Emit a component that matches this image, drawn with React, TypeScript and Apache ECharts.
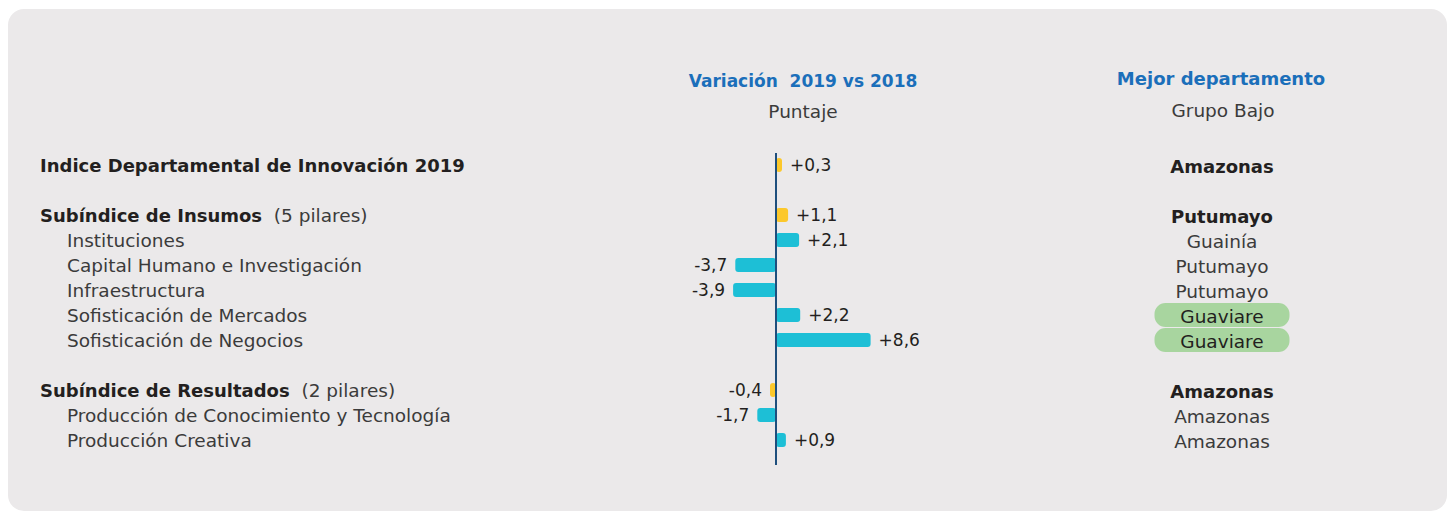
import React, { useEffect, useRef } from 'react';
import * as echarts from 'echarts';

// ---------- data ----------
const rowLabels = [
  'Indice Departamental de Innovación 2019',
  '',
  'Subíndice de Insumos',
  'Instituciones',
  'Capital Humano e Investigación',
  'Infraestructura',
  'Sofisticación de Mercados',
  'Sofisticación de Negocios',
  '',
  'Subíndice de Resultados',
  'Producción de Conocimiento y Tecnología',
  'Producción Creativa',
];
const rowNotes = ['', '', '(5 pilares)', '', '', '', '', '', '', '(2 pilares)', '', ''];
const rowLevels = ['index', 'gap', 'sub', 'pillar', 'pillar', 'pillar', 'pillar', 'pillar', 'gap', 'sub', 'pillar', 'pillar'];
const variation: (number | null)[] = [0.3, null, 1.1, 2.1, -3.7, -3.9, 2.2, 8.6, null, -0.4, -1.7, 0.9];
const bestDept = ['Amazonas', '', 'Putumayo', 'Guainía', 'Putumayo', 'Putumayo', 'Guaviare', 'Guaviare', '', 'Amazonas', 'Amazonas', 'Amazonas'];
const highlighted = [false, false, false, false, false, false, true, true, false, false, false, false];

const headerLeft = 'Variación  2019 vs 2018';
const headerLeftSub = 'Puntaje';
const headerRight = 'Mejor departamento';
const headerRightSub = 'Grupo Bajo';

// ---------- style ----------
const FONT = 'DejaVu Sans';
const BLUE = '#1b6fba';
const YELLOW = '#fcc82b';
const CYAN = '#1dbfd6';
const DARK = '#231f20';
const GREY = '#3b3b3b';
const BOLD_SIZE = 18;
const REG_SIZE = 18.5;

const fmt = (v: number) => (v > 0 ? '+' : '') + v.toFixed(1).replace('.', ',');

export default function App() {
  const ref = useRef<HTMLDivElement>(null);

  useEffect(() => {
    if (!ref.current) return;
    const chart = echarts.init(ref.current, undefined, { renderer: 'svg' });

    const barData = variation.map((v, i) => {
      if (v === null) return { value: '-' };
      const isSummary = rowLevels[i] === 'index' || rowLevels[i] === 'sub';
      return {
        value: v,
        itemStyle: { color: isSummary ? YELLOW : CYAN, borderRadius: 3 },
        label: { position: v >= 0 ? 'right' : 'left' },
      };
    });

    const option: any = {
      animation: false,
      backgroundColor: 'transparent',
      textStyle: { fontFamily: FONT },
      grid: { left: 666, width: 220, top: 152.5, height: 300, containLabel: false },
      xAxis: { type: 'value', min: -10, max: 10, show: false },
      yAxis: [
        {
          type: 'category',
          inverse: true,
          data: rowLabels,
          axisLine: { show: false },
          axisTick: { show: false },
          splitLine: { show: false },
          axisLabel: {
            interval: 0,
            margin: 626,
            align: 'left',
            fontFamily: FONT,
            formatter: (_v: string, i: number) => {
              const lvl = rowLevels[i];
              if (lvl === 'gap') return '';
              if (lvl === 'pillar') return `{p|${rowLabels[i]}}`;
              return `{b|${rowLabels[i]}}` + (rowNotes[i] ? `{n|  ${rowNotes[i]}}` : '');
            },
            rich: {
              b: { fontFamily: FONT, fontSize: BOLD_SIZE, fontWeight: 'bold', color: DARK },
              n: { fontFamily: FONT, fontSize: REG_SIZE, color: GREY },
              p: { fontFamily: FONT, fontSize: REG_SIZE, color: GREY, padding: [0, 0, 0, 27] },
            },
          },
        },
        {
          type: 'category',
          inverse: true,
          position: 'right',
          data: bestDept,
          axisLine: { show: false },
          axisTick: { show: false },
          splitLine: { show: false },
          axisLabel: {
            interval: 0,
            margin: 336,
            align: 'center',
            fontFamily: FONT,
            formatter: (v: string, i: number) => {
              if (!v) return '';
              if (highlighted[i]) return `{g|${v}}`;
              const lvl = rowLevels[i];
              if (lvl === 'index' || lvl === 'sub') return `{b|${v}}`;
              return `{n|${v}}`;
            },
            rich: {
              b: { fontFamily: FONT, fontSize: BOLD_SIZE, fontWeight: 'bold', color: DARK, padding: [3, 0, 0, 0] },
              n: { fontFamily: FONT, fontSize: REG_SIZE, color: GREY, padding: [3, 0, 0, 0] },
              g: {
                fontFamily: FONT,
                fontSize: REG_SIZE,
                color: DARK,
                backgroundColor: '#a8d59f',
                borderRadius: 11,
                width: 135,
                height: 22,
                lineHeight: 22,
                align: 'center',
                padding: [2, 0, 0, 0],
              },
            },
          },
        },
      ],
      series: [
        {
          type: 'bar',
          yAxisIndex: 0,
          barWidth: 14,
          barMinHeight: 6,
          data: barData,
          label: {
            show: true,
            distance: 8,
            fontFamily: FONT,
            fontSize: 17,
            color: DARK,
            formatter: (p: any) => fmt(p.value as number),
          },
        },
      ],
      graphic: [
        {
          id: 'panel',
          type: 'rect',
          z: -100,
          silent: true,
          shape: { x: 8, y: 9, width: 1439, height: 502, r: 16 },
          style: { fill: '#ebe9ea' },
        },
        {
          id: 'h1',
          type: 'text',
          x: 803,
          y: 81,
          style: { text: headerLeft, fontFamily: FONT, fontSize: 17, fontWeight: 'bold', fill: BLUE, textAlign: 'center', textVerticalAlign: 'middle' },
        },
        {
          id: 'h1s',
          type: 'text',
          x: 803,
          y: 111,
          style: { text: headerLeftSub, fontFamily: FONT, fontSize: REG_SIZE, fill: GREY, textAlign: 'center', textVerticalAlign: 'middle' },
        },
        {
          id: 'h2',
          type: 'text',
          x: 1221,
          y: 78,
          style: { text: headerRight, fontFamily: FONT, fontSize: 18, fontWeight: 'bold', fill: BLUE, textAlign: 'center', textVerticalAlign: 'middle' },
        },
        {
          id: 'h2s',
          type: 'text',
          x: 1223,
          y: 110,
          style: { text: headerRightSub, fontFamily: FONT, fontSize: REG_SIZE, fill: GREY, textAlign: 'center', textVerticalAlign: 'middle' },
        },
      ],
    };

    chart.setOption(option);

    const x0 = chart.convertToPixel({ xAxisIndex: 0 }, 0) as number;
    chart.setOption({
      graphic: [
        {
          id: 'zeroLine',
          type: 'line',
          z: 50,
          shape: { x1: x0, y1: 153, x2: x0, y2: 465 },
          style: { stroke: '#1e4f7d', lineWidth: 2 },
        },
      ],
    });

    return () => chart.dispose();
  }, []);

  return (
    <div
      ref={ref}
      style={{ position: 'absolute', left: 0, top: 0, width: 1455, height: 513 }}
    />
  );
}
